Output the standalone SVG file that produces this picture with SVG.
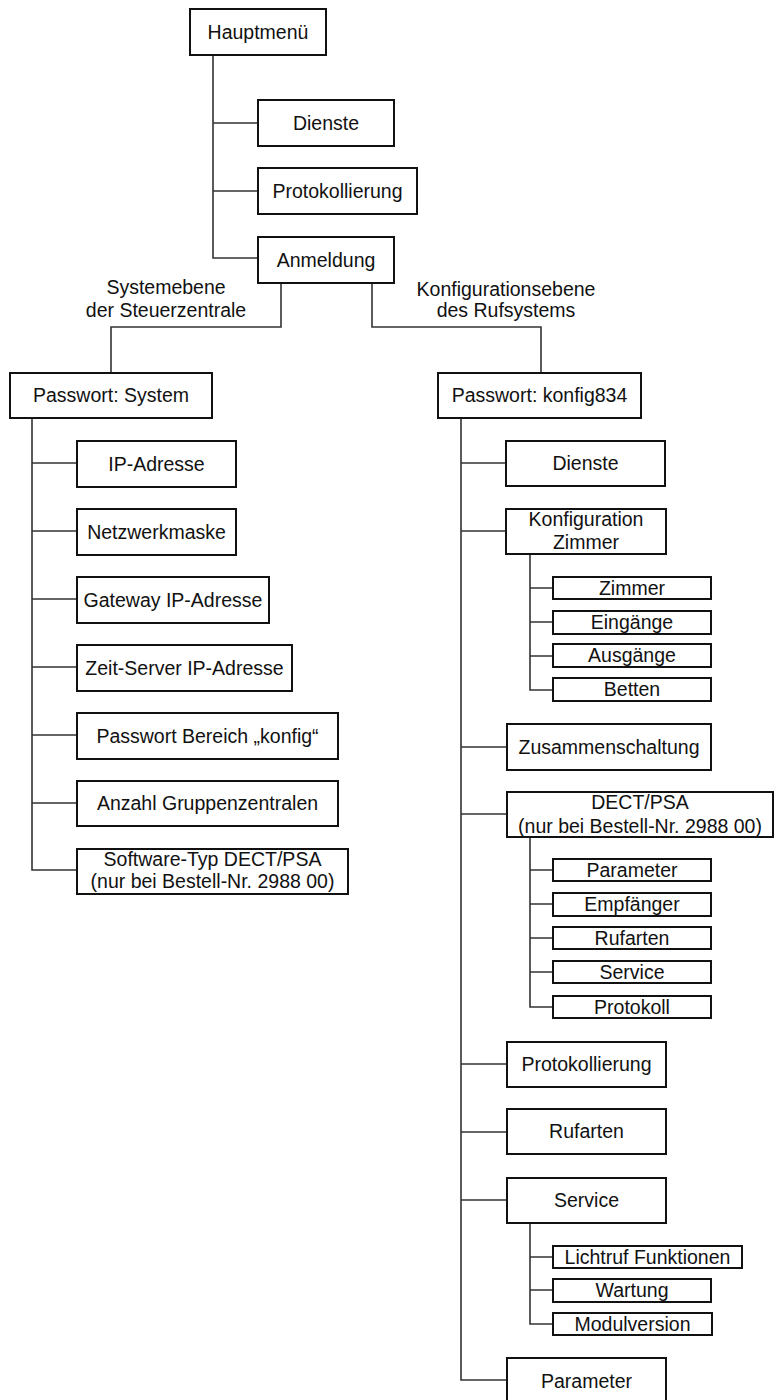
<svg xmlns="http://www.w3.org/2000/svg" width="774" height="1400" viewBox="0 0 774 1400">
<style>
  .box rect { fill: #fff; stroke: #111; stroke-width: 2; }
  text { font-family: "Liberation Sans", Arial, sans-serif; font-size: 19.5px; fill: #111; text-anchor: middle; }
  .conn path { fill: none; stroke: #333; stroke-width: 1.6; }
</style>
<rect width="774" height="1400" fill="#fff"/>
<g class="conn" id="connectors">
  <path d="M213,55 V258 H258 M213,123 H258 M213,191 H258"/>
  <path d="M281,283 V327 H111 V373"/>
  <path d="M372,283 V327 H541 V373"/>
  <path d="M32,418 V870 H77 M32,463 H77 M32,531 H77 M32,599 H77 M32,667 H77 M32,735 H77 M32,803 H77"/>
  <path d="M461,418 V1380 H507 M461,463 H506 M461,531 H506 M461,747 H507 M461,814 H507 M461,1064 H507 M461,1132 H507 M461,1200 H507"/>
  <path d="M530,554 V690 H553 M530,588 H553 M530,622 H553 M530,656 H553"/>
  <path d="M530,837 V1007 H553 M530,870 H553 M530,904 H553 M530,938 H553 M530,972 H553"/>
  <path d="M530,1223 V1324 H553 M530,1257 H553 M530,1290 H553"/>
</g>
<g id="labels">
  <text x="166" y="294">Systemebene</text>
  <text x="166" y="317">der Steuerzentrale</text>
  <text x="506" y="296">Konfigurationsebene</text>
  <text x="506" y="317">des Rufsystems</text>
</g>
<g class="box" id="hauptmenue"><rect x="190" y="9" width="136" height="46"/><text x="258" y="39">Hauptmenü</text></g>
<g class="box" id="dienste-top"><rect x="258" y="100" width="136" height="46"/><text x="326" y="130">Dienste</text></g>
<g class="box" id="protokollierung-top"><rect x="258" y="168" width="159" height="46"/><text x="337.5" y="198">Protokollierung</text></g>
<g class="box" id="anmeldung"><rect x="258" y="237" width="136" height="46"/><text x="326" y="267">Anmeldung</text></g>

<g class="box" id="pw-system"><rect x="10" y="373" width="202" height="45"/><text x="111" y="402">Passwort: System</text></g>
<g class="box" id="ip-adresse"><rect x="77" y="441" width="159" height="46"/><text x="156.5" y="471">IP-Adresse</text></g>
<g class="box" id="netzwerkmaske"><rect x="77" y="509" width="159" height="46"/><text x="156.5" y="539">Netzwerkmaske</text></g>
<g class="box" id="gateway"><rect x="77" y="577" width="192" height="46"/><text x="173" y="607">Gateway IP-Adresse</text></g>
<g class="box" id="zeitserver"><rect x="77" y="645" width="215" height="46"/><text x="184.5" y="675">Zeit-Server IP-Adresse</text></g>
<g class="box" id="pw-bereich"><rect x="77" y="713" width="261" height="46"/><text x="207.5" y="743">Passwort Bereich „konfig“</text></g>
<g class="box" id="anzahl"><rect x="77" y="781" width="261" height="45"/><text x="207.5" y="810">Anzahl Gruppenzentralen</text></g>
<g class="box" id="softwaretyp"><rect x="77" y="849" width="271" height="45"/><text x="212.5" y="866">Software-Typ DECT/PSA</text><text x="212.5" y="888">(nur bei Bestell-Nr. 2988 00)</text></g>

<g class="box" id="pw-konfig834"><rect x="438" y="373" width="203" height="45"/><text x="539.5" y="402">Passwort: konfig834</text></g>
<g class="box" id="dienste"><rect x="506" y="441" width="159" height="45"/><text x="585.5" y="470">Dienste</text></g>
<g class="box" id="konf-zimmer"><rect x="506" y="509" width="160" height="45"/><text x="586" y="526">Konfiguration</text><text x="586" y="549">Zimmer</text></g>
<g class="box" id="zimmer"><rect x="553" y="577" width="158" height="22"/><text x="632" y="595">Zimmer</text></g>
<g class="box" id="eingaenge"><rect x="553" y="611" width="158" height="23"/><text x="632" y="629">Eingänge</text></g>
<g class="box" id="ausgaenge"><rect x="553" y="644" width="158" height="23"/><text x="632" y="662">Ausgänge</text></g>
<g class="box" id="betten"><rect x="553" y="678" width="158" height="23"/><text x="632" y="696">Betten</text></g>
<g class="box" id="zusammenschaltung"><rect x="507" y="724" width="204" height="46"/><text x="609" y="754">Zusammenschaltung</text></g>
<g class="box" id="dect-psa"><rect x="507" y="792" width="266" height="45"/><text x="640" y="809">DECT/PSA</text><text x="640" y="833">(nur bei Bestell-Nr. 2988 00)</text></g>
<g class="box" id="parameter-dect"><rect x="553" y="859" width="158" height="22"/><text x="632" y="877">Parameter</text></g>
<g class="box" id="empfaenger"><rect x="553" y="893" width="158" height="23"/><text x="632" y="911">Empfänger</text></g>
<g class="box" id="rufarten-dect"><rect x="553" y="927" width="158" height="22"/><text x="632" y="945">Rufarten</text></g>
<g class="box" id="service-dect"><rect x="553" y="961" width="158" height="22"/><text x="632" y="979">Service</text></g>
<g class="box" id="protokoll"><rect x="553" y="996" width="158" height="22"/><text x="632" y="1014">Protokoll</text></g>
<g class="box" id="protokollierung"><rect x="507" y="1042" width="159" height="45"/><text x="586.5" y="1071">Protokollierung</text></g>
<g class="box" id="rufarten"><rect x="507" y="1109" width="159" height="45"/><text x="586.5" y="1138">Rufarten</text></g>
<g class="box" id="service"><rect x="507" y="1178" width="159" height="45"/><text x="586.5" y="1207">Service</text></g>
<g class="box" id="lichtruf"><rect x="553" y="1246" width="189" height="22"/><text x="647.5" y="1264">Lichtruf Funktionen</text></g>
<g class="box" id="wartung"><rect x="553" y="1279" width="158" height="23"/><text x="632" y="1297">Wartung</text></g>
<g class="box" id="modulversion"><rect x="553" y="1313" width="159" height="22"/><text x="632.5" y="1331">Modulversion</text></g>
<g class="box" id="parameter"><rect x="507" y="1358" width="159" height="46"/><text x="586.5" y="1388">Parameter</text></g>
</svg>
